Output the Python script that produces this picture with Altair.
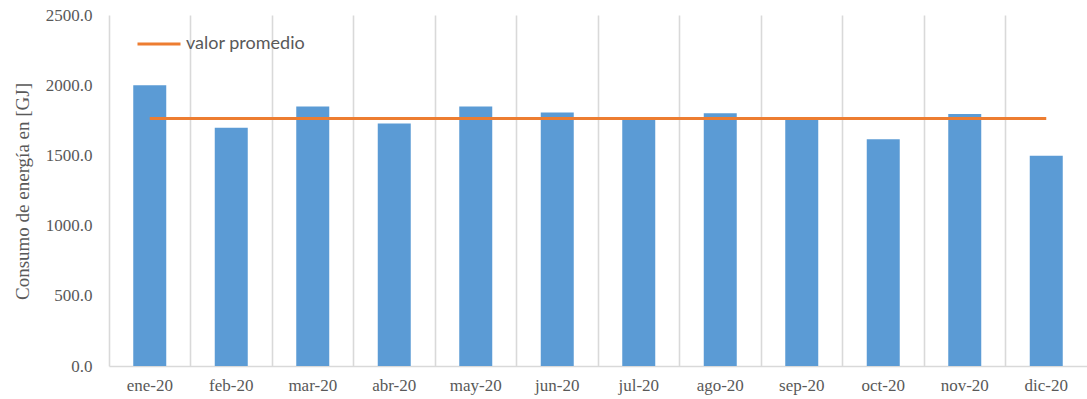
import altair as alt
import pandas as pd

meses = ["ene-20", "feb-20", "mar-20", "abr-20", "may-20", "jun-20",
         "jul-20", "ago-20", "sep-20", "oct-20", "nov-20", "dic-20"]
consumo = [2000, 1697, 1848, 1727, 1848, 1806, 1764, 1800, 1759, 1615, 1795, 1498]
y_ticks = [0, 500, 1000, 1500, 2000, 2500]

df = pd.DataFrame({"mes": meses, "consumo": consumo})

GRAY = "#595959"
SERIF = "Liberation Serif"

xscale = alt.Scale(paddingInner=0, paddingOuter=0)
yscale = alt.Scale(domain=[0, 2500], nice=False)
xaxis = alt.Axis(bandPosition=0, labelAngle=0, labelFont=SERIF, labelFontSize=17,
                 labelColor=GRAY)
yaxis = alt.Axis(values=y_ticks, format=".1f", labelFont=SERIF, labelFontSize=17,
                 labelColor=GRAY, titleFont=SERIF)

base = alt.Chart(df)

bars = base.mark_bar(color="#5B9BD5", size=33).encode(
    x=alt.X("mes:N", sort=meses, title=None, scale=xscale, axis=xaxis),
    y=alt.Y("consumo:Q", title="Consumo de energía en [GJ]", scale=yscale, axis=yaxis),
)

line = base.transform_joinaggregate(
    promedio="mean(consumo)"
).transform_calculate(
    serie="'valor promedio'"
).mark_line(strokeWidth=3).encode(
    x=alt.X("mes:N", sort=meses, title=None, scale=xscale, axis=xaxis),
    y=alt.Y("promedio:Q", title="Consumo de energía en [GJ]", scale=yscale, axis=yaxis),
    color=alt.Color("serie:N", scale=alt.Scale(range=["#ED7D31"]),
                    legend=alt.Legend(title=None, orient="none", legendX=27,
                                      legendY=6, symbolType="stroke",
                                      symbolSize=1849, symbolStrokeWidth=3,
                                      labelFont="Lato", labelFontSize=18,
                                      labelColor=GRAY, padding=0)),
)

chart = alt.layer(bars, line).properties(
    width=978, height=351,
    autosize=alt.AutoSizeParams(type="none"),
    padding={"left": 109, "top": 15, "right": 0, "bottom": 33},
).configure(font=SERIF).configure_view(stroke=None).configure_axisX(
    grid=True, gridColor="#d9d9d9", gridWidth=1.6, ticks=False,
    domainColor="#d9d9d9", domainWidth=1.6,
    labelFont=SERIF, labelFontSize=17, labelColor=GRAY, labelPadding=11,
).configure_axisY(
    grid=False, domain=False, ticks=False,
    labelFont=SERIF, labelFontSize=17, labelColor=GRAY, labelPadding=17,
    titleFont=SERIF, titleFontSize=19, titleColor=GRAY, titleFontWeight="normal",
    titleAngle=-90, titleX=-87, titleY=176, titleAlign="center",
    titleBaseline="middle",
)

chart.save("out.html", embed_options={"renderer": "svg", "actions": False})
